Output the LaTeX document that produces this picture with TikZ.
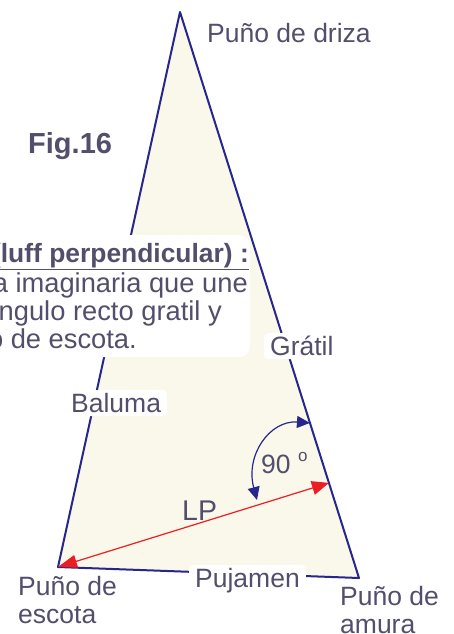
\documentclass[tikz,border=0pt]{standalone}
\usepackage{fontspec}
\setmainfont{Liberation Sans}
\usetikzlibrary{arrows.meta,calc}
\definecolor{navy}{RGB}{38,38,140}
\definecolor{cream}{RGB}{250,248,234}
\definecolor{lpred}{RGB}{235,30,35}
\definecolor{txt}{RGB}{82,78,108}
\tikzset{
  lbl/.style={font=\fontsize{26.5}{28}\selectfont, text=txt, inner sep=0pt, anchor=base west},
  wlbl/.style={font=\fontsize{26.5}{28}\selectfont, text=txt, fill=white, rounded corners=4pt,
    inner xsep=6pt, inner ysep=3pt, text height=19pt, text depth=1pt, anchor=base west},
  boxline/.style={font=\fontsize{27.3}{29}\selectfont, text=txt, inner sep=0pt, anchor=base east},
  sail/.style={draw=navy, fill=cream, line width=2pt, line join=round},
  lparrow/.style={draw=lpred, line width=1.2pt, {Triangle[length=19pt,width=13pt]}-{Triangle[length=17pt,width=14pt]}},
  anglearrow/.style={draw=navy, line width=1.2pt, {Triangle[length=13pt,width=12pt]}-{Triangle[length=13pt,width=12pt]}}
}
\begin{document}
\begin{tikzpicture}[x=1pt,y=-1pt]
\useasboundingbox (0,0) rectangle (454,634);
\clip (0,0) rectangle (454,634);
\fill[white] (0,0) rectangle (454,634);
% sail
\coordinate (head) at (180,12);
\coordinate (tack) at (359,578);
\coordinate (clew) at (58,567);
\draw[sail] (head) -- (tack) -- (clew) -- cycle;
% text box
\node[fill=white, rounded corners=10pt, minimum width=300pt, minimum height=122pt, inner sep=0pt, anchor=north east] (infobox) at (250,235) {};
\node[boxline, font=\fontsize{26.4}{29}\selectfont] (t1) at (249,262) {\textbf{\underline{LP (luff perpendicular) :}}};
\node[boxline] (t2) at (248,292) {Línea imaginaria que une};
\node[boxline] (t3) at (222,320) {el ángulo recto gratil y};
\node[boxline] (t4) at (137,348) {puño de escota.};
% LP arrow
\coordinate (lpend) at ($(head)!0.832!(tack)$);
\draw[lparrow] (clew) -- (lpend);
% angle arc
\coordinate (arctop) at ($(head)!0.726!(tack)$);
\coordinate (arcbot) at (257,500);
\draw[anglearrow] (arcbot) .. controls (245,455) and (270,420) .. (arctop);
% labels
\node[lbl, font=\fontsize{29}{30}\selectfont\bfseries] (fig) at (28,153) {Fig.16};
\node[lbl] (driza) at (207,43) {Puño de driza};
\node[wlbl] (gratil) at (264,355) {Grátil};
\node[wlbl] (baluma) at (65,412) {Baluma};
\node[wlbl] (pujamen) at (189,587) {Pujamen};
\node[lbl] (ang) at (261,473) {90 {\raisebox{0.42em}{\fontsize{17}{17}\selectfont o}}};
\node[lbl, font=\fontsize{28.5}{30}\selectfont] (lp) at (182,520) {LP};
\node[lbl, align=left] (escota) at (18,623) {Puño de\\escota};
\node[lbl, align=left] (amura) at (340,633) {Puño de\\amura};
\end{tikzpicture}
\end{document}
